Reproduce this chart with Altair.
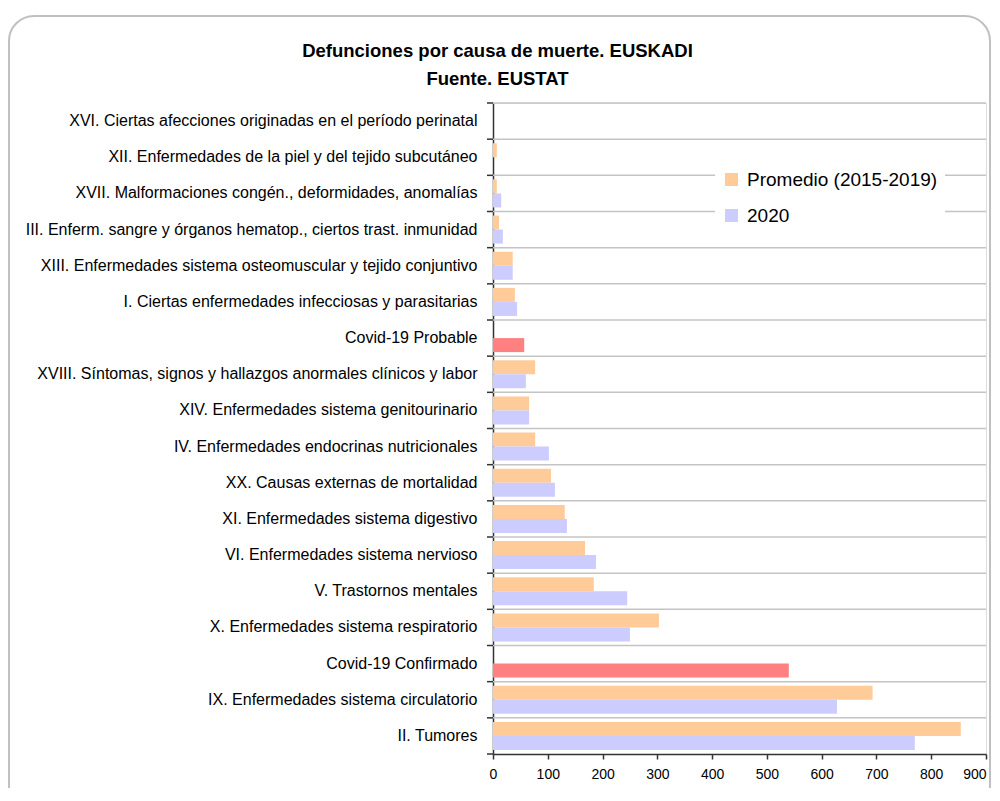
import altair as alt
import pandas as pd

FONT = "Liberation Sans, Arial, sans-serif"

categorias = [
    "XVI. Ciertas afecciones originadas en el período perinatal",
    "XII. Enfermedades de la piel y del tejido subcutáneo",
    "XVII. Malformaciones congén., deformidades, anomalías",
    "III. Enferm. sangre y órganos hematop., ciertos trast. inmunidad",
    "XIII. Enfermedades sistema osteomuscular y tejido conjuntivo",
    "I. Ciertas enfermedades infecciosas y parasitarias",
    "Covid-19 Probable",
    "XVIII. Síntomas, signos y hallazgos anormales clínicos y labor",
    "XIV. Enfermedades sistema genitourinario",
    "IV. Enfermedades endocrinas nutricionales",
    "XX. Causas externas de mortalidad",
    "XI. Enfermedades sistema digestivo",
    "VI. Enfermedades sistema nervioso",
    "V. Trastornos mentales",
    "X. Enfermedades sistema respiratorio",
    "Covid-19 Confirmado",
    "IX. Enfermedades sistema circulatorio",
    "II. Tumores",
]
promedio = [0, 7, 7, 11, 36, 40, None, 77, 66, 77, 106, 131, 168, 184, 303, None, 693, 854]
anio2020 = [0, 0, 15, 18, 36, 44, 57, 60, 66, 102, 113, 135, 188, 245, 250, 540, 628, 770]

S_PROM = "Promedio (2015-2019)"
S_2020 = "2020"
S_COVID = "Covid"

rows = []
for c, p, v in zip(categorias, promedio, anio2020):
    covid = c.startswith("Covid")
    if p is not None:
        rows.append({"cat": c, "serie": S_PROM, "grupo": S_PROM, "valor": p})
    if v is not None:
        rows.append({"cat": c, "serie": S_2020, "grupo": S_COVID if covid else S_2020, "valor": v})
df = pd.DataFrame(rows)
df_cats = pd.DataFrame({"cat": categorias})
df_last = pd.DataFrame({"cat": categorias[-1:]})
df_frame = pd.DataFrame({"k": [0]})

yscale = alt.Scale(domain=categorias, paddingInner=0, paddingOuter=0)
yaxis = alt.Axis(
    title=None, ticks=False, grid=False, labelPadding=16, labelFontSize=16,
    labelFont=FONT, labelColor="#000000", labelLimit=0,
    domainColor="#333333", domainWidth=1.5,
)

frame = alt.Chart(df_frame).mark_rect(
    filled=False, stroke="#c0c0c0", strokeWidth=2, cornerRadius=25
).encode(
    x=alt.value(-484), x2=alt.value(497), y=alt.value(-87), y2=alt.value(707)
)

grid = alt.Chart(df_cats).mark_rule(color="#c4c4c4", strokeWidth=1.5).encode(
    y=alt.Y("cat:N", sort=categorias, scale=yscale, bandPosition=0, axis=yaxis),
    x=alt.value(0), x2=alt.value(493),
)

ticks = alt.Chart(df_cats).mark_rule(color="#333333", strokeWidth=1.5).encode(
    y=alt.Y("cat:N", sort=categorias, scale=yscale, bandPosition=0, axis=yaxis),
    x=alt.value(-6), x2=alt.value(0),
)
tick_last = alt.Chart(df_last).mark_rule(color="#333333", strokeWidth=1.5).encode(
    y=alt.Y("cat:N", sort=categorias, scale=yscale, bandPosition=1, axis=yaxis),
    x=alt.value(-6), x2=alt.value(0),
)

bars = alt.Chart(df).mark_bar().encode(
    y=alt.Y("cat:N", sort=categorias, scale=yscale, axis=yaxis),
    yOffset=alt.YOffset(
        "serie:N", sort=[S_PROM, S_2020],
        scale=alt.Scale(domain=[S_PROM, S_2020], paddingInner=0, paddingOuter=0.29),
    ),
    x=alt.X(
        "valor:Q", scale=alt.Scale(domain=[0, 900], nice=False),
        axis=alt.Axis(
            title=None, values=list(range(0, 901, 100)), grid=False, tickSize=5,
            tickColor="#333333", tickWidth=1.5, labelFontSize=14, labelFont=FONT,
            labelColor="#000000", labelPadding=8, domainColor="#333333", domainWidth=1.5,
            labelFlush=False,
            labelAlign=alt.ExprRef(expr="datum.value == 900 ? 'right' : 'center'"),
        ),
    ),
    color=alt.Color(
        "grupo:N",
        scale=alt.Scale(domain=[S_PROM, S_2020, S_COVID], range=["#FFCC99", "#CCCCFF", "#FF8080"]),
        legend=alt.Legend(
            title=None, values=[S_PROM, S_2020], orient="none", legendX=222, legendY=60,
            fillColor="#ffffff", padding=7, symbolType="square", symbolSize=169,
            symbolStrokeWidth=0, symbolOpacity=1, labelFontSize=19, labelFont=FONT,
            labelColor="#000000", rowPadding=16, labelOffset=6, labelLimit=0,
        ),
    ),
)

chart = alt.layer(frame, grid, bars, ticks, tick_last).properties(
    width=493, height=651,
    autosize=alt.AutoSizeParams(type="none"),
    padding={"left": 485, "top": 95, "right": 6, "bottom": 34},
    title=alt.TitleParams(
        text=["Defunciones por causa de muerte. EUSKADI", "Fuente. EUSTAT"],
        fontSize=18.5, fontWeight="bold", font=FONT, color="#000000",
        lineHeight=28, anchor="middle", frame="group", dx=-242, dy=73, offset=0,
    ),
).configure_view(stroke="#a6a6a6", strokeWidth=1.5).configure(background="#ffffff")

chart.save("out.html", embed_options={"renderer": "svg", "actions": False})
